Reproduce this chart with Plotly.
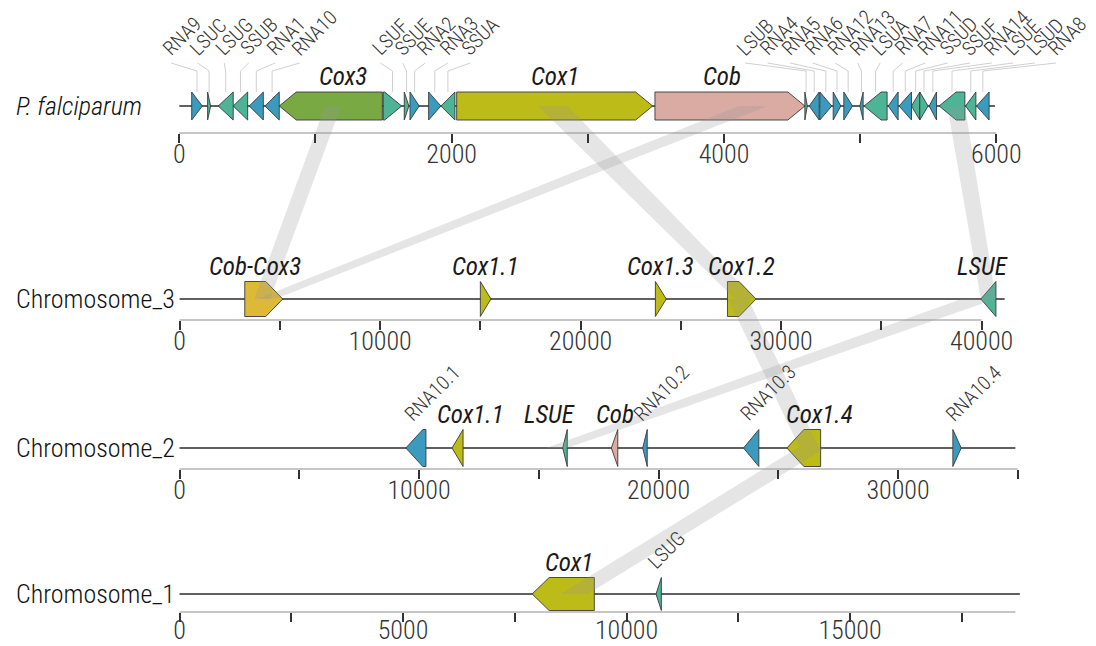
import plotly.graph_objects as go

W, H = 1096, 646
FONT = "Roboto Condensed, Liberation Sans Narrow, Arial Narrow, DejaVu Sans Condensed, sans-serif"

# ---------------- data ----------------
track_names = ["P. falciparum", "Chromosome_3", "Chromosome_2", "Chromosome_1"]
seq_lengths = [5990, 41150, 34900, 18800]

pf_names = ["RNA9", "LSUC", "LSUG", "SSUB", "RNA1", "RNA10", "Cox3", "LSUF", "SSUE", "RNA2",
            "RNA3", "SSUA", "Cox1", "Cob", "LSUB", "RNA4", "RNA5", "RNA6", "RNA12", "RNA13",
            "LSUA", "RNA7", "RNA11", "SSUD", "SSUF", "RNA14", "LSUE", "LSUD", "RNA8"]
pf_start = [91, 208, 286, 396, 514, 629, 734, 1498, 1652, 1694,
            1831, 1921, 2037, 3493, 4594, 4626, 4704, 4802, 4880, 4998,
            5029, 5206, 5286, 5377, 5438, 5507, 5580, 5774, 5855]
pf_end = [169, 230, 396, 502, 617, 734, 1491, 1633, 1686, 1762,
          1921, 2024, 3476, 4594, 4612, 4699, 4792, 4858, 4944, 5022,
          5198, 5279, 5377, 5438, 5499, 5561, 5769, 5850, 5947]
pf_strand = [1, 1, -1, -1, -1, -1, -1, 1, 1, 1,
             1, -1, 1, 1, 1, -1, 1, 1, 1, -1,
             -1, -1, -1, -1, 1, -1, -1, -1, -1]

c3_names = ["Cob-Cox3", "Cox1.1", "Cox1.3", "Cox1.2", "LSUE"]
c3_start = [3250, 15000, 23730, 27325, 39960]
c3_end = [5145, 15530, 24275, 28750, 40715]
c3_strand = [1, 1, 1, 1, -1]

c2_names = ["RNA10.1", "Cox1.1", "LSUE", "Cob", "RNA10.2", "RNA10.3", "Cox1.4", "RNA10.4"]
c2_start = [9450, 11380, 16000, 18030, 19340, 23550, 25360, 32290]
c2_end = [10290, 11840, 16190, 18300, 19530, 24190, 26770, 32640]
c2_strand = [-1, -1, -1, -1, -1, -1, -1, 1]

c1_names = ["Cox1", "LSUG"]
c1_start = [7890, 10660]
c1_end = [9280, 10780]
c1_strand = [-1, -1]

big_labels = [["Cox3", "Cox1", "Cob"],
              ["Cob-Cox3", "Cox1.1", "Cox1.3", "Cox1.2", "LSUE"],
              ["Cox1.1", "LSUE", "Cob", "Cox1.4"],
              ["Cox1"]]

link_from_track = [0, 0, 0, 0, 1, 1, 2]
link_from_start = [1071, 4110, 2634, 5640, 39000, 27360, 25800]
link_from_end = [1188, 4320, 2852, 5769, 40700, 28360, 26970]
link_to_track = [1, 1, 1, 1, 2, 2, 3]
link_to_start = [3720, 3870, 27700, 39960, 15300, 25900, 8530]
link_to_end = [4510, 4760, 28700, 40715, 16190, 26700, 9130]

tick_step = [1000, 5000, 5000, 2500]
label_step = [2000, 10000, 10000, 5000]
axis_max = [6000, 40000, 35000, 18700]

# ---------------- layout / style ----------------
track_y = [106, 299, 448, 594]
gene_h = [28, 35, 37, 33]
axis_y = [133, 320, 469, 612]
label_gap = [3, 3, 3, 0]
origin_px = [179.3, 179.6, 179.5, 179.5]
px_per_bp = [0.13617, 0.02005, 0.02395, 0.0447]
label_nudge = {(0, "Cox3"): 12, (0, "Cob"): -8, (1, "Cob-Cox3"): -9, (1, "LSUE"): -6,
               (2, "Cox1.1"): 13, (2, "LSUE"): -15, (2, "Cox1.4"): 16, (3, "Cox1"): 6}
# horizontal nudges (px) of the repelled top-track labels
small_nudge = {"RNA9": -12, "LSUC": -8, "LSUG": -4, "SSUB": -2, "RNA1": 2, "RNA10": 4,
               "LSUB": 7, "RNA4": 7, "RNA5": 7, "RNA6": 7, "RNA12": 7, "RNA13": 7,
               "LSUA": 7, "RNA7": 7, "RNA11": 7, "SSUD": 7, "SSUF": 7, "RNA14": 6,
               "LSUE": 5, "LSUD": 4, "RNA8": 3}
HEAD_PX = 17
OUTLINE = "#3a3a3a"
COLORS = {"cox1": "#BCBB17", "cox3": "#78A943", "cob": "#D9ABA2", "cobcox3": "#DDB935",
          "rna": "#3A9BBE", "rrna": "#4DB496"}
SMALL = dict(family=FONT, size=20, color="#333", weight=300)

tracks = [
    (pf_names, pf_start, pf_end, pf_strand),
    (c3_names, c3_start, c3_end, c3_strand),
    (c2_names, c2_start, c2_end, c2_strand),
    (c1_names, c1_start, c1_end, c1_strand),
]
xaxes = ["x", "x2", "x3", "x4"]


def gene_color(name):
    if name.startswith("Cob-"):
        return COLORS["cobcox3"]
    if name.startswith("Cox1"):
        return COLORS["cox1"]
    if name.startswith("Cox3"):
        return COLORS["cox3"]
    if name.startswith("Cob"):
        return COLORS["cob"]
    if name.startswith("RNA"):
        return COLORS["rna"]
    return COLORS["rrna"]


def px_to_bp(t, px):
    return (px - origin_px[t]) / px_per_bp[t]


def bp_to_px(t, bp):
    return origin_px[t] + bp * px_per_bp[t]


def frac(t, bp):
    return bp_to_px(t, bp) / W


def arrow(t, s, e, strand):
    yc = track_y[t]
    h2 = gene_h[t] / 2
    head = HEAD_PX / px_per_bp[t]
    if e - s <= head:
        if strand > 0:
            return [s, e, s, s], [yc - h2, yc, yc + h2, yc - h2]
        return [e, s, e, e], [yc - h2, yc, yc + h2, yc - h2]
    if strand > 0:
        return ([s, e - head, e, e - head, s, s],
                [yc - h2, yc - h2, yc, yc + h2, yc + h2, yc - h2])
    return ([e, s + head, s, s + head, e, e],
            [yc - h2, yc - h2, yc, yc + h2, yc + h2, yc - h2])


def repel(xs, d, iters=3000):
    xs = list(xs)
    for _ in range(iters):
        for i in range(len(xs) - 1):
            gap = xs[i + 1] - xs[i]
            if gap < d:
                push = (d - gap) / 2
                xs[i] -= push
                xs[i + 1] += push
    return xs


fig = go.Figure()

# links (drawn first, behind everything)
for fa, fs, fe, ta, ts, te in zip(link_from_track, link_from_start, link_from_end,
                                  link_to_track, link_to_start, link_to_end):
    fig.add_trace(go.Scatter(
        x=[frac(fa, fs), frac(fa, fe), frac(ta, te), frac(ta, ts), frac(fa, fs)],
        y=[track_y[fa], track_y[fa], track_y[ta], track_y[ta], track_y[fa]],
        xaxis="x9", yaxis="y", mode="lines", fill="toself",
        fillcolor="rgba(150,150,150,0.25)", line=dict(width=0), hoverinfo="skip"))

# axis lines and sequence lines
for t in range(4):
    fig.add_trace(go.Scatter(x=[0, axis_max[t]], y=[axis_y[t], axis_y[t]], xaxis=xaxes[t], yaxis="y",
                             mode="lines", line=dict(color="#c6c6c6", width=2), hoverinfo="skip"))
    fig.add_trace(go.Scatter(x=[0, seq_lengths[t]], y=[track_y[t], track_y[t]], xaxis=xaxes[t], yaxis="y",
                             mode="lines", line=dict(color="#2b2b2b", width=1.4), hoverinfo="skip"))

annotations = []

# top-track small labels with leader lines
names, starts, ends, strands = tracks[0]
small = [i for i, n in enumerate(names) if n not in big_labels[0]]
centers_px = [bp_to_px(0, (starts[i] + ends[i]) / 2) for i in small]
label_px = repel(centers_px, 22.5)
lx, ly = [], []
gene_top0 = track_y[0] - gene_h[0] / 2
for i, cpx, lpx in zip(small, centers_px, label_px):
    lpx = lpx + small_nudge.get(names[i], 0)
    lx += [px_to_bp(0, cpx), px_to_bp(0, cpx), px_to_bp(0, lpx + 6), None]
    ly += [gene_top0, 71, 63, None]
    annotations.append(dict(x=px_to_bp(0, lpx), y=63, xref="x", yref="y", text=names[i],
                            textangle=-45, xanchor="left", yanchor="bottom", xshift=-10,
                            showarrow=False, font=SMALL))
fig.add_trace(go.Scatter(x=lx, y=ly, xaxis="x", yaxis="y", mode="lines",
                         line=dict(color="#d0d0d0", width=1), hoverinfo="skip"))

# genes
for t, (names, starts, ends, strands) in enumerate(tracks):
    for n, s, e, st in zip(names, starts, ends, strands):
        xs, ys = arrow(t, s, e, st)
        fig.add_trace(go.Scatter(x=xs, y=ys, xaxis=xaxes[t], yaxis="y", mode="lines", fill="toself",
                                 fillcolor=gene_color(n), line=dict(color=OUTLINE, width=0.9),
                                 hoverinfo="skip"))
        center = (s + e) / 2
        top = track_y[t] - gene_h[t] / 2
        if n in big_labels[t]:
            nud = label_nudge.get((t, n), 0) / px_per_bp[t]
            annotations.append(dict(x=center + nud, y=top, xref=xaxes[t], yref="y",
                                    text="<i>%s</i>" % n, xanchor="center", yanchor="bottom",
                                    yshift=-1, showarrow=False,
                                    font=dict(family=FONT, size=25, color="#1a1a1a")))
        elif t > 0:
            annotations.append(dict(x=center, y=top - 1, xref=xaxes[t], yref="y", text=n,
                                    textangle=-45, xanchor="left", yanchor="bottom", xshift=-19,
                                    showarrow=False, font=SMALL))

# track names
for t, nm in enumerate(track_names):
    txt = "<i>%s</i>" % nm if t == 0 else nm
    annotations.append(dict(x=14 / W, y=track_y[t], xref="paper", yref="y", text=txt,
                            xanchor="left", yanchor="middle", showarrow=False,
                            font=dict(family=FONT, size=26, color="#111", weight=300)))

layout = dict(
    width=W, height=H, margin=dict(l=0, r=0, t=0, b=0),
    paper_bgcolor="white", plot_bgcolor="white", showlegend=False, hovermode=False,
    yaxis=dict(range=[H, 0], domain=[0, 1], visible=False, fixedrange=True),
    xaxis9=dict(range=[0, 1], domain=[0, 1], overlaying="x", visible=False, anchor="free", position=0),
    annotations=annotations,
)
for t in range(4):
    r0 = px_to_bp(t, 0)
    r1 = px_to_bp(t, W)
    vals = list(range(0, axis_max[t] + 1, tick_step[t]))
    lvals = [v for v in vals if v % label_step[t] == 0]
    common = dict(domain=[0, 1], range=[r0, r1], anchor="free", showline=False, showgrid=False,
                  zeroline=False, automargin=False, fixedrange=True, tickmode="array")
    # ticks only
    ax = dict(common, position=1 - axis_y[t] / H, tickvals=vals, showticklabels=False,
              ticks="outside", ticklen=9, tickwidth=1.6, tickcolor="#333")
    if t > 0:
        ax["overlaying"] = "x"
    layout["xaxis" if t == 0 else "xaxis%d" % (t + 1)] = ax
    # labels only
    layout["xaxis%d" % (t + 5)] = dict(common, position=1 - (axis_y[t] + label_gap[t]) / H,
                                       overlaying="x",
                                       tickvals=lvals, ticktext=[str(v) for v in lvals],
                                       ticks="", ticklen=0,
                                       tickfont=dict(family=FONT, size=26, color="#333", weight=300))

fig.update_layout(**layout)
# label axes need a (hidden) trace to be drawn
for t in range(4):
    fig.add_trace(go.Scatter(x=[0], y=[-100], xaxis="x%d" % (t + 5), yaxis="y", mode="markers",
                             marker=dict(size=1, opacity=0), hoverinfo="skip"))
fig.write_html("out.html")
